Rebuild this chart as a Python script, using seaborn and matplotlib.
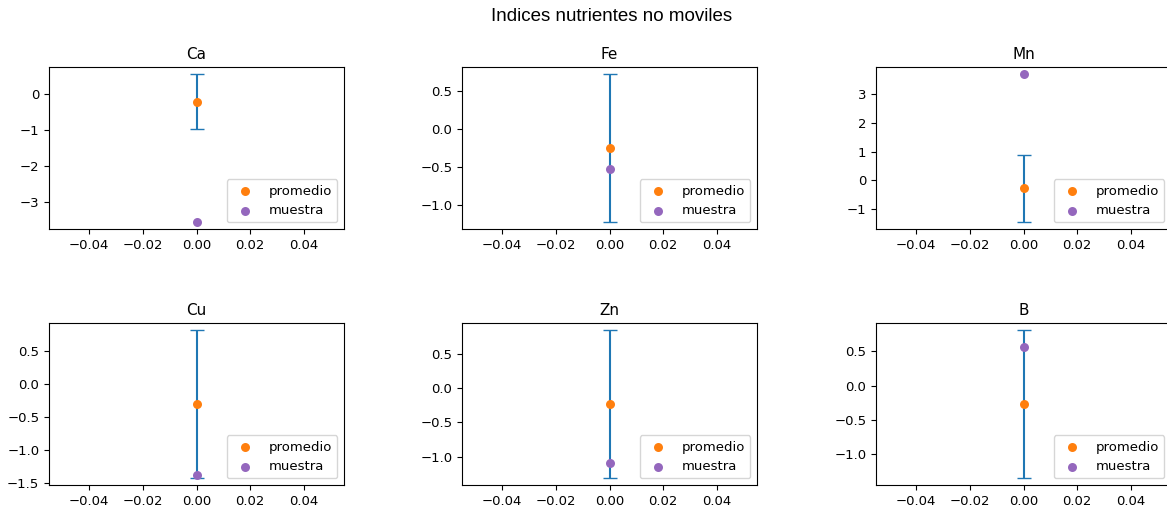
import numpy as np
import matplotlib
matplotlib.use("Agg")
import matplotlib.pyplot as plt
from matplotlib.ticker import MultipleLocator
import seaborn as sns

# datos
nutrientes = ["Ca", "Fe", "Mn", "Cu", "Zn", "B"]
promedio = [-0.21, -0.25, -0.27, -0.30, -0.23, -0.27]
desvio = [0.765, 0.975, 1.17, 1.115, 1.075, 1.075]
muestra = [-3.56, -0.53, 3.70, -1.37, -1.09, 0.56]

plt.rcParams["font.family"] = ["DejaVu Sans"]

fig = plt.figure(figsize=(11.67, 5.15), dpi=100)
W, H = 1167, 515
lefts = [49, 462, 876]
tops = [67, 323]
aw, ah = 295, 162

for i, nut in enumerate(nutrientes):
    r, c = divmod(i, 3)
    ax = fig.add_axes([lefts[c] / W, 1 - (tops[r] + ah) / H, aw / W, ah / H])
    ax.errorbar([0], [promedio[i]], yerr=[desvio[i]], color="C0", capsize=5, fmt="none")
    sns.scatterplot(x=[0], y=[promedio[i]], color="C1", s=42, linewidth=0,
                    label="promedio", ax=ax, zorder=3)
    sns.scatterplot(x=[0], y=[muestra[i]], color="C4", s=42, linewidth=0,
                    label="muestra", ax=ax, zorder=3)
    ax.set_xlim(-0.055, 0.055)
    ax.set_xticks([-0.04, -0.02, 0.0, 0.02, 0.04])
    if nut == "Mn":
        ax.yaxis.set_major_locator(MultipleLocator(1))
    ax.set_title(nut, fontsize=11)
    ax.tick_params(labelsize=9.5)
    ax.legend(loc="lower right", fontsize=9.5)

fig.suptitle("Indices nutrientes no moviles", fontsize=13.5, x=612 / W, y=0.985,
             family=["Liberation Sans", "DejaVu Sans"])

fig.savefig("out.png", dpi=100)
